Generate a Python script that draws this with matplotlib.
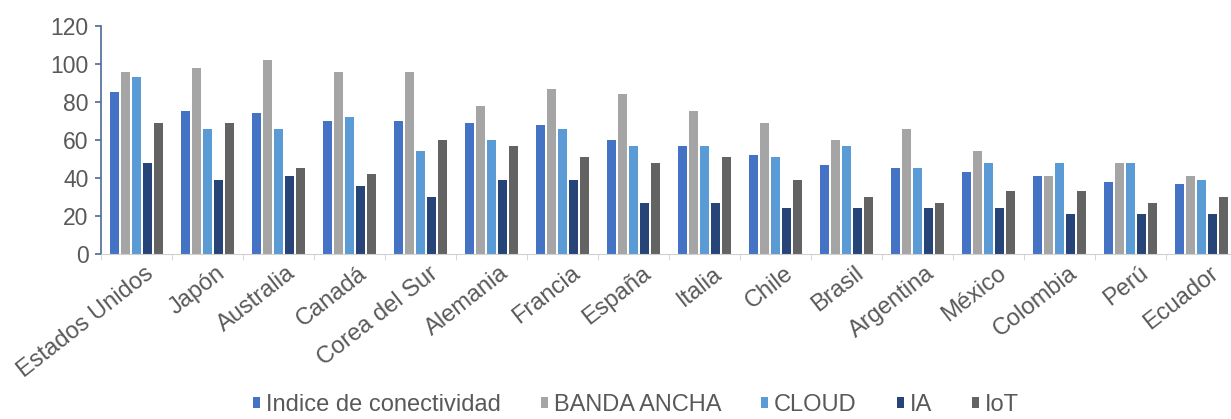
import numpy as np
import matplotlib
matplotlib.use("Agg")
import matplotlib.pyplot as plt
from matplotlib.ticker import FixedLocator
from matplotlib.transforms import ScaledTranslation

plt.rcParams["font.family"] = ["Liberation Sans", "DejaVu Sans"]

paises = ["Estados Unidos", "Japón", "Australia", "Canadá", "Corea del Sur",
          "Alemania", "Francia", "España", "Italia", "Chile", "Brasil",
          "Argentina", "México", "Colombia", "Perú", "Ecuador"]
indice = [85, 75, 74, 70, 70, 69, 68, 60, 57, 52, 47, 45, 43, 41, 38, 37]
banda_ancha = [96, 98, 102, 96, 96, 78, 87, 84, 75, 69, 60, 66, 54, 41, 48, 41]
cloud = [93, 66, 66, 72, 54, 60, 66, 57, 57, 51, 57, 45, 48, 48, 48, 39]
ia = [48, 39, 41, 36, 30, 39, 39, 27, 27, 24, 24, 24, 24, 21, 21, 21]
iot = [69, 69, 45, 42, 60, 57, 51, 48, 51, 39, 30, 27, 33, 33, 27, 30]

series = [("Indice de conectividad", indice, "#4472C4"),
          ("BANDA ANCHA", banda_ancha, "#A5A5A5"),
          ("CLOUD", cloud, "#5B9BD5"),
          ("IA", ia, "#264478"),
          ("IoT", iot, "#636363")]

txt = "#595959"
fig = plt.figure(figsize=(12.31, 4.19), dpi=100)
ax = fig.add_axes([101 / 1231, 165 / 419, 1136 / 1231, 228 / 419])

x = np.arange(len(paises))
pitch, w = 0.155, 0.135
for k, (name, vals, col) in enumerate(series):
    ax.bar(x + (k - 2) * pitch, vals, w, color=col, label=name)

ax.set_xlim(-0.5, len(paises) - 0.5)
ax.set_ylim(0, 120)
ax.set_yticks(range(0, 121, 20))
ax.tick_params(axis="y", labelsize=16.5, labelcolor=txt, color="#4a6a9a",
               length=4, width=1.2, pad=5)

ax.set_xticks(x)
ax.set_xticklabels(paises, rotation=38, ha="right", va="top",
                   rotation_mode="anchor", fontsize=17, color=txt)
ax.tick_params(axis="x", length=0, pad=6)
shift = ScaledTranslation(8 / 100, 0, fig.dpi_scale_trans)
for lab in ax.get_xticklabels():
    lab.set_transform(lab.get_transform() + shift)
ax.xaxis.set_minor_locator(FixedLocator(np.arange(-0.5, len(paises), 1)))
ax.tick_params(axis="x", which="minor", length=4, color="#d0d0d0")

for s in ["top", "right"]:
    ax.spines[s].set_visible(False)
ax.spines["left"].set_color("#4a6a9a")
ax.spines["left"].set_linewidth(1.2)
ax.spines["bottom"].set_color("#d0d0d0")

fig.legend(loc="center", bbox_to_anchor=(636 / 1231, 14 / 419), ncol=5,
           frameon=False, fontsize=17, labelcolor=txt, handlelength=0.3,
           handleheight=0.3, handletextpad=0.25, columnspacing=1.7)

fig.savefig("out.png", dpi=100)
